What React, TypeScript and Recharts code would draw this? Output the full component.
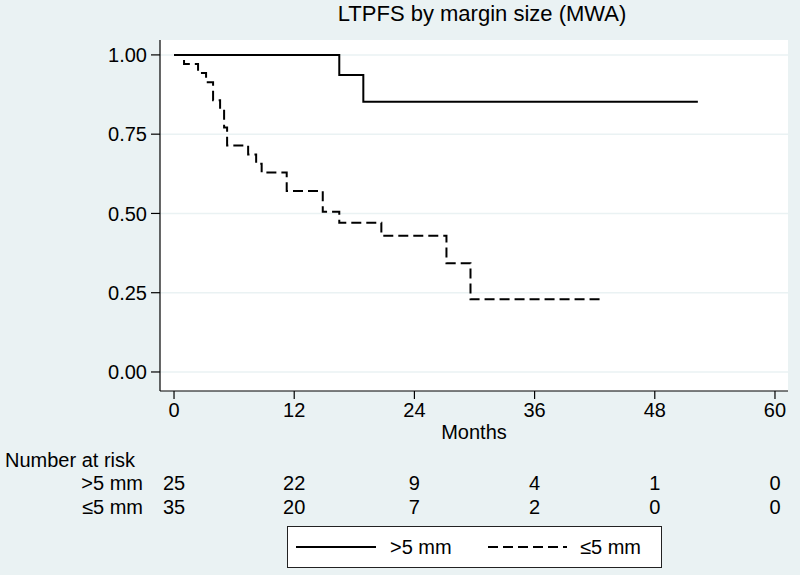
import React from 'react';
import { LineChart, Line, XAxis, YAxis, CartesianGrid, Legend, Label } from 'recharts';

// ---- data ----
const timeTicks = [0, 12, 24, 36, 48, 60];
const survTicks = [0, 0.25, 0.5, 0.75, 1];

const seriesNames = ['>5 mm', '≤5 mm'];

const gtTimes = [0, 16.5, 18.9, 52.3];
const gtSurv = [1, 0.937, 0.852, 0.852];

const leTimes = [0, 1.0, 2.4, 3.2, 3.9, 4.6, 5.0, 5.3, 7.4, 8.2, 8.75, 11.25, 14.85, 16.5, 20.7, 27.2, 29.6, 42.5];
const leSurv = [1, 0.971, 0.943, 0.914, 0.857, 0.829, 0.771, 0.714, 0.686, 0.657, 0.629, 0.571, 0.505, 0.471, 0.43, 0.343, 0.229, 0.229];

const riskGt = [25, 22, 9, 4, 1, 0];
const riskLe = [35, 20, 7, 2, 0, 0];

const gtData = gtTimes.map((t, i) => ({ t, s: gtSurv[i] }));
const leData = leTimes.map((t, i) => ({ t, s: leSurv[i] }));

const BG = '#EAF2F3';
const FONT = '"Liberation Sans", Arial, Helvetica, sans-serif';
const xDomain: [number, number] = [-1.4, 61.3];

const LegendBox = (props: any) => {
  const payload = (props.payload || []).filter((e: any) => e && e.type !== 'none');
  const dashed = (i: number) => {
    const e = payload[i];
    const d = e && e.payload && e.payload.strokeDasharray;
    return d ? d : i === 1 ? '10 5' : undefined;
  };
  return (
    <svg width={376} height={43} style={{ display: 'block' }}>
      <rect x={0.5} y={0.5} width={374} height={41} fill="#fff" stroke="#222" strokeWidth={1} />
      <line x1={9} x2={89} y1={21} y2={21} stroke="#000" strokeWidth={2} strokeDasharray={dashed(0)} />
      <text x={103} y={21} dy="0.355em" fontSize={20} fill="#000" fontFamily={FONT}>{seriesNames[0]}</text>
      <line x1={201} x2={280} y1={21} y2={21} stroke="#000" strokeWidth={2} strokeDasharray={dashed(1)} />
      <text x={293} y={21} dy="0.355em" fontSize={20} fill="#000" fontFamily={FONT}>{seriesNames[1]}</text>
    </svg>
  );
};

const riskAxisCommon = {
  type: 'number' as const,
  domain: xDomain,
  allowDataOverflow: true,
  ticks: timeTicks,
  interval: 0 as const,
  tickSize: 0,
  tickMargin: 5,
  axisLine: false,
  tickLine: false,
  tick: { fill: '#000', fontSize: 20 },
};

export default function App() {
  return (
    <div style={{ position: 'absolute', left: 0, top: 0, width: 800, height: 575, background: BG, fontFamily: FONT, overflow: 'hidden' }}>
      <div style={{ position: 'absolute', left: 182, top: 1, width: 600, textAlign: 'center', fontSize: 22, lineHeight: '26px', color: '#000', zIndex: 2 }}>
        LTPFS by margin size (MWA)
      </div>
      <div style={{ position: 'absolute', left: 5, top: 448, fontSize: 20, lineHeight: '24px', color: '#000', zIndex: 2 }}>
        Number at risk
      </div>
      <LineChart width={800} height={575} margin={{ top: 40, right: 12, bottom: 57, left: 100 }}>
        <CartesianGrid xAxisId="main" horizontal={true} vertical={false} fill="#ffffff" stroke={BG} strokeWidth={1.5} horizontalValues={survTicks} />
        <YAxis
          type="number"
          domain={[-0.06, 1.047]}
          allowDataOverflow
          ticks={survTicks}
          interval={0}
          tickFormatter={(v: number) => v.toFixed(2)}
          width={60}
          tickSize={9}
          tickMargin={4}
          axisLine={{ stroke: '#000', strokeWidth: 1.2 }}
          tickLine={{ stroke: '#000', strokeWidth: 1.2 }}
          tick={{ fill: '#000', fontSize: 20 }}
        />
        <XAxis
          xAxisId="main"
          type="number"
          dataKey="t"
          domain={xDomain}
          allowDataOverflow
          ticks={timeTicks}
          interval={0}
          height={80}
          tickSize={8}
          tickMargin={4}
          axisLine={{ stroke: '#000', strokeWidth: 1.2 }}
          tickLine={{ stroke: '#000', strokeWidth: 1.2 }}
          tick={{ fill: '#000', fontSize: 20 }}
        >
          <Label value="Months" position="insideBottom" offset={32} fill="#000" fontSize={20} />
        </XAxis>
        <XAxis
          xAxisId="r1"
          dataKey="t"
          height={24}
          {...riskAxisCommon}
          tickFormatter={(_v: number, i: number) => String(riskGt[i])}
        >
          <Label value={seriesNames[0]} position="left" offset={17} fill="#000" fontSize={20} />
        </XAxis>
        <XAxis
          xAxisId="r2"
          dataKey="t"
          height={23}
          {...riskAxisCommon}
          tickFormatter={(_v: number, i: number) => String(riskLe[i])}
        >
          <Label value={seriesNames[1]} position="left" offset={17} fill="#000" fontSize={20} />
        </XAxis>
        <Line
          xAxisId="main"
          data={gtData}
          dataKey="s"
          name={seriesNames[0]}
          type="stepAfter"
          stroke="#000"
          strokeWidth={2}
          dot={false}
          activeDot={false}
          isAnimationActive={false}
        />
        <Line
          xAxisId="main"
          data={leData}
          dataKey="s"
          name={seriesNames[1]}
          type="stepAfter"
          stroke="#000"
          strokeWidth={2}
          strokeDasharray="10 5"
          dot={false}
          activeDot={false}
          isAnimationActive={false}
        />
        <Line
          xAxisId="r1"
          data={gtData}
          dataKey="s"
          stroke="none"
          strokeOpacity={0}
          legendType="none"
          dot={false}
          activeDot={false}
          isAnimationActive={false}
        />
        <Line
          xAxisId="r2"
          data={leData}
          dataKey="s"
          stroke="none"
          strokeOpacity={0}
          legendType="none"
          dot={false}
          activeDot={false}
          isAnimationActive={false}
        />
        <Legend
          layout="horizontal"
          verticalAlign="middle"
          align="center"
          content={<LegendBox />}
          wrapperStyle={{ position: 'absolute', left: 287, top: 526, width: 376, height: 43, margin: 0 }}
        />
      </LineChart>
    </div>
  );
}
